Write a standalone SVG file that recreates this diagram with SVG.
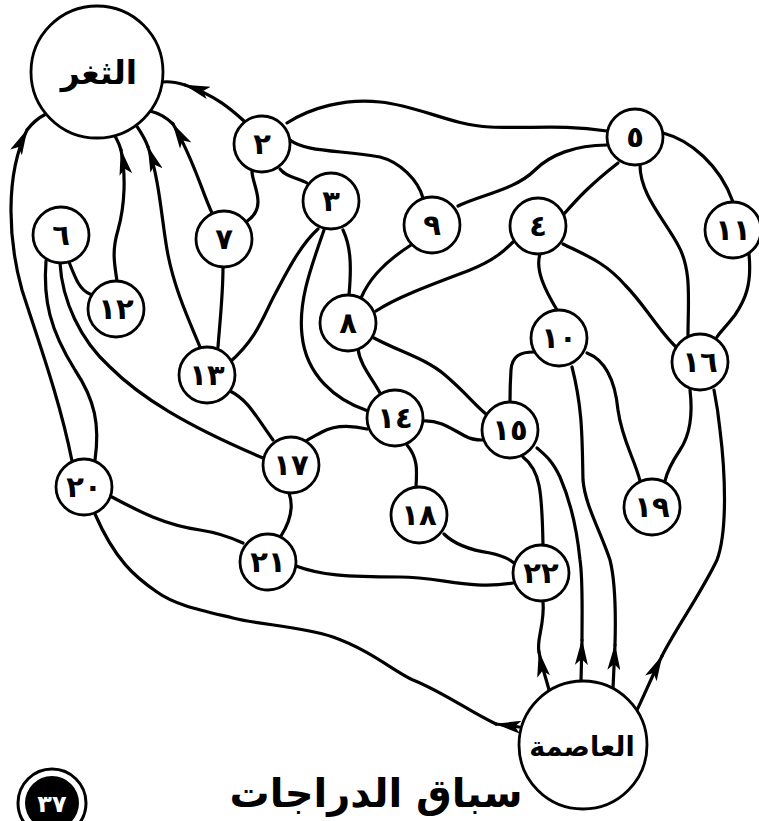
<svg xmlns="http://www.w3.org/2000/svg" width="759" height="821" viewBox="0 0 759 821">
<style>
  .ln{fill:none;stroke:#000;stroke-width:3.2;stroke-linecap:round;stroke-linejoin:round}
  .ar{marker-end:url(#arr)}
  .nd{fill:#fff;stroke:#000;stroke-width:2.8}
  .lb{font-family:"DejaVu Sans",sans-serif;font-weight:bold;font-size:29px;text-anchor:middle;fill:#000}
  .big{font-family:"DejaVu Sans",sans-serif;font-weight:bold;text-anchor:middle;fill:#000}
</style>
<defs>
  <marker id="arr" markerUnits="userSpaceOnUse" viewBox="0 0 26 13" refX="25" refY="6.5" markerWidth="26" markerHeight="13" orient="auto">
    <path d="M0,0 L26,6.5 L0,13 L6,6.5 Z" fill="#000"/>
  </marker>
</defs>
<rect width="759" height="821" fill="#fff"/>
<g id="connectors">
  <path class="ln" d="M287,123 C310,108 345,98 380,102 C420,106 450,125 490,127 C530,129 560,124 607,131"/>
  <path class="ln" d="M290,140 C305,152 340,150 380,157 C400,162 418,180 423,198"/>
  <path class="ln" d="M252,171 C252,180 258,190 258,202 C258,212 252,218 246,222"/>
  <path class="ln" d="M280,169 C287,178 297,177 307,183"/>
  <path class="ln" d="M318,229 C300,245 285,275 272,300 C262,320 255,340 230,362"/>
  <path class="ln" d="M324,230 C312,265 298,300 302,335 C306,375 335,400 368,411"/>
  <path class="ln" d="M343,230 C350,245 352,262 349,295"/>
  <path class="ln" d="M361,298 C368,282 380,265 411,245"/>
  <path class="ln" d="M376,311 C395,298 430,285 470,270 C495,260 505,250 513,242"/>
  <path class="ln" d="M458,206 C480,195 515,190 535,170 C550,155 575,145 607,145"/>
  <path class="ln" d="M358,349 C360,365 372,378 380,393"/>
  <path class="ln" d="M374,338 C400,352 425,358 445,375 C465,392 475,405 486,414"/>
  <path class="ln" d="M564,214 C578,198 590,185 618,163"/>
  <path class="ln" d="M540,254 C535,270 545,290 557,310"/>
  <path class="ln" d="M563,244 C585,255 605,262 625,285 C645,305 658,330 676,347"/>
  <path class="ln" d="M640,165 C640,195 665,220 678,245 C692,270 688,300 688,336"/>
  <path class="ln" d="M663,133 C690,140 720,165 733,202"/>
  <path class="ln" d="M749,254 C752,285 745,300 735,315 C725,328 720,332 717,337"/>
  <path class="ln" d="M534,352 C520,352 512,356 511,370 C510,385 510,395 510,402"/>
  <path class="ln" d="M587,353 C605,360 615,380 618,410 C622,440 635,460 640,481"/>
  <path class="ln" d="M690,390 C693,415 690,435 680,450 C670,465 667,472 665,481"/>
  <path class="ln" d="M523,457 C540,470 542,490 543,545"/>
  <path class="ln" d="M423,421 C440,420 450,428 465,436 C472,440 478,440 482,440"/>
  <path class="ln" d="M407,445 C418,458 417,470 416,487"/>
  <path class="ln" d="M367,429 C350,425 335,425 322,432 C315,436 310,438 303,443"/>
  <path class="ln" d="M444,534 C455,545 470,550 490,553 C500,555 508,558 514,563"/>
  <path class="ln" d="M296,566 C320,575 345,577 400,577 C440,577 470,590 513,583"/>
  <path class="ln" d="M289,493 C295,510 288,525 281,536"/>
  <path class="ln" d="M112,497 C140,512 165,525 200,530 C220,533 232,538 243,543"/>
  <path class="ln" d="M230,391 C248,400 255,415 273,440"/>
  <path class="ln" d="M60,263 C62,300 80,340 110,367 C140,397 185,425 263,458"/>
  <path class="ln" d="M46,261 C43,300 50,330 75,370 C95,400 100,425 95,460"/>
  <path class="ln" d="M69,262 C76,280 80,290 90,294"/>
  <path class="ln" d="M223,267 C223,295 220,320 218,347"/>
  <path class="ln ar" d="M244,121 C232,110 215,95 185,85"/>
  <path class="ln" d="M185,85 C175,82 170,81 163,82"/>
  <path class="ln ar" d="M212,213 C202,192 194,160 173,124"/>
  <path class="ln" d="M173,124 C165,116 158,113 150,111"/>
  <path class="ln ar" d="M200,347 C188,318 175,290 168,255 C162,225 160,180 148,147"/>
  <path class="ln" d="M148,147 C145,138 140,131 136,125"/>
  <path class="ln ar" d="M117,281 C114,262 112,250 118,230 C125,205 126,175 121,150"/>
  <path class="ln" d="M121,150 C119,143 117,140 115,136"/>
  <path class="ln ar" d="M72,461 C60,400 38,340 22,290 C8,240 5,175 27,130"/>
  <path class="ln" d="M27,130 C33,122 38,118 46,114"/>
  <path class="ln ar" d="M519,727 L496,724"/>
  <path class="ln" d="M496,724 C470,712 445,693 413,680 C395,672 370,650 333,637 C300,626 260,625 233,618 C200,610 175,605 157,592 C135,577 115,560 95,514"/>
  <path class="ln ar" d="M549,690 C546,678 542,668 539,652"/>
  <path class="ln" d="M539,652 C536,640 545,625 543,601"/>
  <path class="ln ar" d="M581,681 L582,640"/>
  <path class="ln" d="M582,640 C582,610 583,580 580,560 C577,530 570,500 560,477 C552,460 545,455 537,448"/>
  <path class="ln ar" d="M613,688 L615,645"/>
  <path class="ln" d="M615,645 C616,610 615,580 610,560 C600,530 585,505 583,480 C582,440 583,410 572,367"/>
  <path class="ln ar" d="M637,710 C642,700 655,670 662,656"/>
  <path class="ln" d="M662,656 C675,630 700,595 717,560 C728,530 725,470 720,430 C718,410 716,400 714,390"/>
</g>
<g id="port"><circle class="nd" cx="97" cy="72" r="66"/><text class="big" x="99" y="84" font-size="33">الثغر</text></g>
<g id="capital"><circle class="nd" cx="583" cy="745" r="64"/><text class="big" x="582" y="756" font-size="27">العاصمة</text></g>
<g id="n2"><circle class="nd" cx="262" cy="144" r="28"/><text class="lb" x="262" y="154">٢</text></g>
<g id="n3"><circle class="nd" cx="331" cy="201" r="28"/><text class="lb" x="331" y="211">٣</text></g>
<g id="n4"><circle class="nd" cx="538" cy="226" r="28"/><text class="lb" x="538" y="236">٤</text></g>
<g id="n5"><circle class="nd" cx="635" cy="137" r="28"/><text class="lb" x="635" y="147">٥</text></g>
<g id="n6"><circle class="nd" cx="61" cy="235" r="28"/><text class="lb" x="61" y="245">٦</text></g>
<g id="n7"><circle class="nd" cx="224" cy="239" r="28"/><text class="lb" x="224" y="249">٧</text></g>
<g id="n8"><circle class="nd" cx="348" cy="323" r="28"/><text class="lb" x="348" y="333">٨</text></g>
<g id="n9"><circle class="nd" cx="432" cy="225" r="28"/><text class="lb" x="432" y="235">٩</text></g>
<g id="n10"><circle class="nd" cx="559" cy="338" r="28"/><text class="lb" x="559" y="348">١٠</text></g>
<g id="n11"><circle class="nd" cx="733" cy="230" r="28"/><text class="lb" x="733" y="240">١١</text></g>
<g id="n12"><circle class="nd" cx="116" cy="309" r="28"/><text class="lb" x="116" y="319">١٢</text></g>
<g id="n13"><circle class="nd" cx="207" cy="375" r="28"/><text class="lb" x="207" y="385">١٣</text></g>
<g id="n14"><circle class="nd" cx="395" cy="418" r="28"/><text class="lb" x="395" y="428">١٤</text></g>
<g id="n15"><circle class="nd" cx="510" cy="430" r="28"/><text class="lb" x="510" y="440">١٥</text></g>
<g id="n16"><circle class="nd" cx="700" cy="362" r="28"/><text class="lb" x="700" y="372">١٦</text></g>
<g id="n17"><circle class="nd" cx="291" cy="465" r="28"/><text class="lb" x="291" y="475">١٧</text></g>
<g id="n18"><circle class="nd" cx="419" cy="515" r="28"/><text class="lb" x="419" y="525">١٨</text></g>
<g id="n19"><circle class="nd" cx="652" cy="507" r="28"/><text class="lb" x="652" y="517">١٩</text></g>
<g id="n20"><circle class="nd" cx="84" cy="487" r="28"/><text class="lb" x="84" y="497">٢٠</text></g>
<g id="n21"><circle class="nd" cx="268" cy="562" r="28"/><text class="lb" x="268" y="572">٢١</text></g>
<g id="n22"><circle class="nd" cx="541" cy="573" r="28"/><text class="lb" x="541" y="583">٢٢</text></g>
<g id="title"><text x="376" y="807" font-family="DejaVu Sans, sans-serif" font-weight="bold" font-size="40" text-anchor="middle">سباق الدراجات</text></g>
<g id="page">
  <circle cx="52" cy="803" r="34" fill="#fff" stroke="#000" stroke-width="3"/>
  <circle cx="52" cy="803" r="27" fill="#000"/>
  <text x="52" y="812" font-family="DejaVu Sans, sans-serif" font-weight="bold" font-size="24" text-anchor="middle" fill="#fff">٣٧</text>
</g>
</svg>
